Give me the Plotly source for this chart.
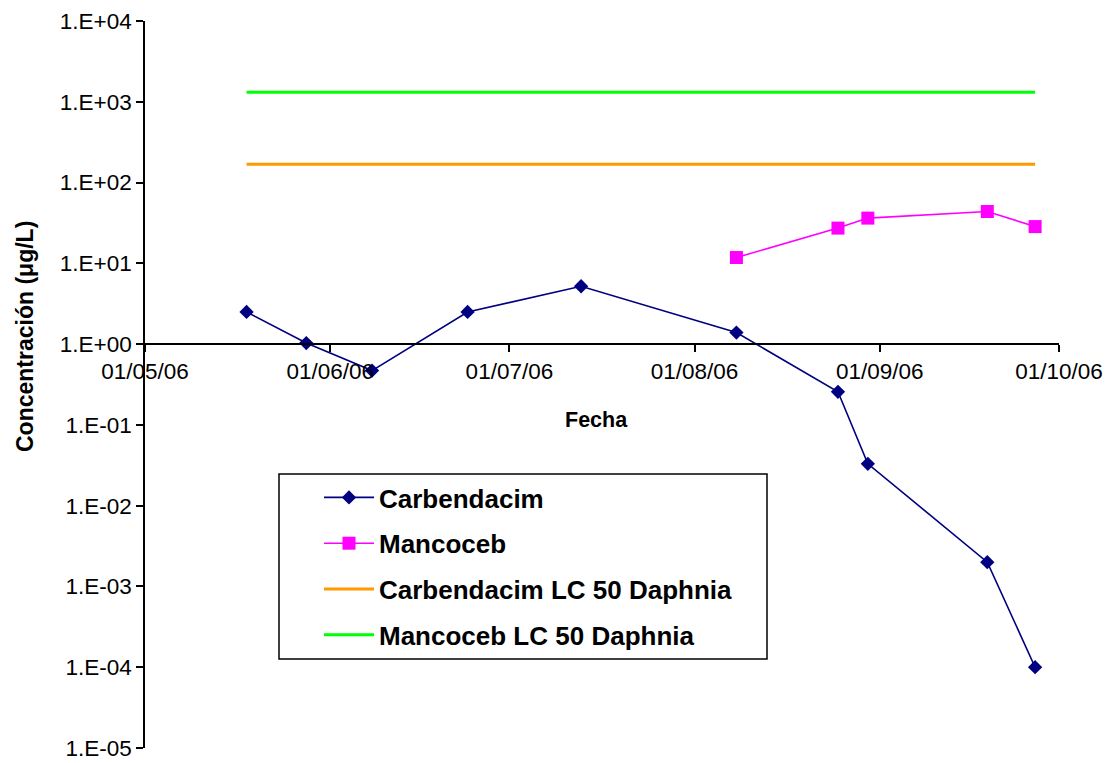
import plotly.graph_objects as go

# ---- data ----
carb_dates = ["2006-05-18", "2006-05-28", "2006-06-08", "2006-06-24", "2006-07-13",
              "2006-08-08", "2006-08-25", "2006-08-30", "2006-09-19", "2006-09-27"]
carb_vals = [2.5, 1.03, 0.47, 2.5, 5.2, 1.39, 0.257, 0.033, 0.002, 0.0001]

manc_dates = ["2006-08-08", "2006-08-25", "2006-08-30", "2006-09-19", "2006-09-27"]
manc_vals = [11.8, 27.3, 36.3, 43.8, 28.5]

lc50_dates = [carb_dates[0], carb_dates[-1]]
carb_lc50 = [169, 169]
manc_lc50 = [1315, 1315]

y_tickvals = [1e4, 1e3, 1e2, 1e1, 1e0, 1e-1, 1e-2, 1e-3, 1e-4, 1e-5]
y_ticktext = ["1.E+04", "1.E+03", "1.E+02", "1.E+01", "1.E+00",
              "1.E-01", "1.E-02", "1.E-03", "1.E-04", "1.E-05"]
x_tickvals = ["2006-05-01", "2006-06-01", "2006-07-01", "2006-08-01", "2006-09-01", "2006-10-01"]
x_ticktext = ["01/05/06", "01/06/06", "01/07/06", "01/08/06", "01/09/06", "01/10/06"]

FONT = "Liberation Sans, Arial, sans-serif"

fig = go.Figure()
fig.add_trace(go.Scatter(x=carb_dates, y=carb_vals, mode="lines+markers", name="Carbendacim",
                         legendgroup="a",
                         line=dict(color="#000080", width=1.6),
                         marker=dict(symbol="diamond", size=11, color="#000080")))
fig.add_trace(go.Scatter(x=manc_dates, y=manc_vals, mode="lines+markers", name="Mancoceb",
                         legendgroup="b",
                         line=dict(color="#FF00FF", width=1.6),
                         marker=dict(symbol="square", size=13, color="#FF00FF")))
fig.add_trace(go.Scatter(x=lc50_dates, y=carb_lc50, mode="lines", name="Carbendacim LC 50 Daphnia",
                         legendgroup="c",
                         line=dict(color="#FF9900", width=3)))
fig.add_trace(go.Scatter(x=lc50_dates, y=manc_lc50, mode="lines", name="Mancoceb LC 50 Daphnia",
                         legendgroup="d",
                         line=dict(color="#00FF00", width=3)))

L, R, T, B = 145, 50, 21, 15
W, H = 1109, 763
pw, ph = W - L - R, H - T - B

def px(xp):
    return (xp - L) / pw

def py(yp):
    return (H - B - yp) / ph

fig.update_layout(
    width=W, height=H,
    margin=dict(l=L, r=R, t=T, b=B, pad=0, autoexpand=False),
    paper_bgcolor="white", plot_bgcolor="white",
    font=dict(family=FONT, color="black", size=20),
    showlegend=True,
    legend=dict(x=px(319), y=py(474), xanchor="left", yanchor="top",
                bgcolor="rgba(0,0,0,0)", borderwidth=0,
                font=dict(family=FONT, size=26, color="black", weight="bold"),
                traceorder="grouped", tracegroupgap=9, itemwidth=50),
    xaxis=dict(type="date", range=["2006-05-01", "2006-10-01"],
               tickvals=x_tickvals, ticktext=x_ticktext,
               anchor="free", position=5/9, automargin=False,
               showline=True, linecolor="black", linewidth=1.5,
               ticks="outside", ticklen=7, tickwidth=1.5, tickcolor="black",
               showgrid=False, zeroline=False,
               tickfont=dict(family=FONT, size=22.5, color="black")),
    yaxis=dict(type="log", range=[-5, 4], automargin=False,
               tickvals=y_tickvals, ticktext=y_ticktext,
               showline=True, linecolor="black", linewidth=1.5,
               ticks="outside", ticklen=7, tickwidth=1.5, tickcolor="black",
               showgrid=False, zeroline=False,
               tickfont=dict(family=FONT, size=22.5, color="black")),
    shapes=[dict(type="rect", xref="paper", yref="paper",
                 x0=px(279), x1=px(767), y0=py(659), y1=py(474),
                 line=dict(color="black", width=1.5), fillcolor="rgba(0,0,0,0)")],
    annotations=[
        dict(text="Fecha", xref="paper", yref="paper", x=px(596), y=py(420),
             xanchor="center", yanchor="middle", showarrow=False,
             font=dict(family=FONT, size=21.5, color="black", weight="bold")),
        dict(text="Concentración (μg/L)", xref="paper", yref="paper", x=px(25), y=py(337),
             xanchor="center", yanchor="middle", showarrow=False, textangle=-90,
             font=dict(family=FONT, size=23, color="black", weight="bold")),
    ],
)

fig.write_html("out.html", config={"displayModeBar": False},
               post_script="document.body.style.margin='0';document.body.style.overflow='hidden';")
